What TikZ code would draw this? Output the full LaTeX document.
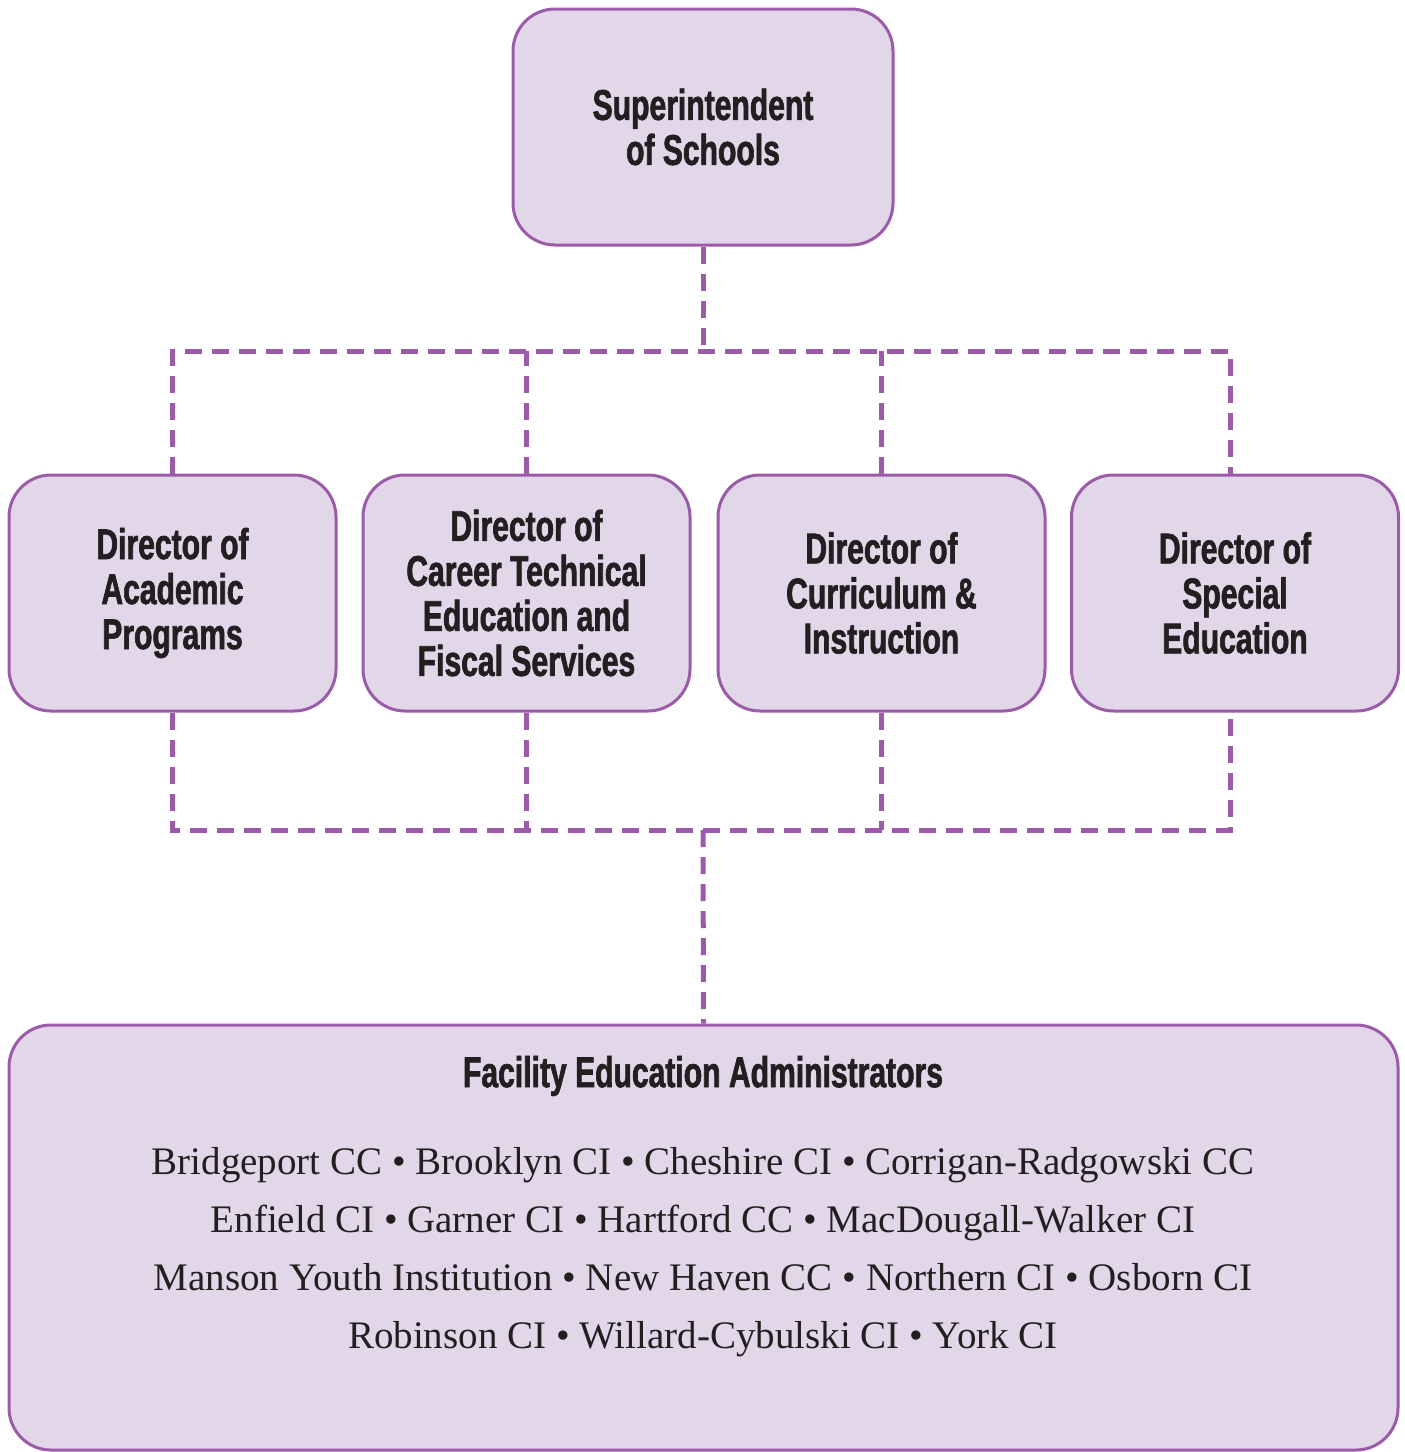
\documentclass[tikz,border=0pt]{standalone}
\usepackage{fontspec}
\usepackage{tikz}
\newfontfamily\headfont[FakeStretch=0.7, FakeBold=1.5]{Liberation Sans Bold}
\newfontfamily\listfont{Liberation Serif}
\definecolor{boxfill}{HTML}{E2D6E9}
\definecolor{boxline}{HTML}{9B5BA8}
\definecolor{ink}{HTML}{231F20}

\begin{document}
\begin{tikzpicture}[x = 0.5pt, y = -0.5pt,
                        box/.style = {rectangle, rounded corners = 21pt, draw = boxline, line width = 1.5pt,
                                      fill = boxfill, text = ink, align = center,
                                      font = \headfont\fontsize{21.5}{22.5}\selectfont},
                        link/.style = {draw = boxline, line width = 2.5pt, dash pattern = on 8.5pt off 5pt}]
      \useasboundingbox (0, 0) rectangle (1404, 1452);
      \node [box, minimum width = 190pt, minimum height = 118pt] (sup) at (703, 127){Superintendent\\of Schools};
      \node [box, minimum width = 163.5pt, minimum height = 118pt] (acad) at (172.5, 593){Director of\\Academic\\Programs};
      \node [box, minimum width = 163.5pt, minimum height = 118pt] (career) at (526.5, 593){Director of\\Career Technical\\Education and\\Fiscal Services};
      \node [box, minimum width = 163.5pt, minimum height = 118pt] (curric) at (881.5, 593){Director of\\Curriculum \&\\Instruction};
      \node [box, minimum width = 163.5pt, minimum height = 118pt] (spec) at (1235, 593){Director of\\Special\\Education};
      \node [box, minimum width = 694.5pt, minimum height = 212.5pt] (fac) at (703.5, 1237.5){};
      \node [text = ink, font = \headfont\fontsize{21.5}{22.5}\selectfont] (factitle) at (703, 1076){Facility Education Administrators};
      \node [text = ink, align = center, font = \listfont\fontsize{19.5}{29}\selectfont] (sites) at (703, 1252){
        Bridgeport CC • Brooklyn CI • Cheshire CI • Corrigan-Radgowski CC\\
        Enfield CI • Garner CI • Hartford CC • MacDougall-Walker CI\\
        Manson Youth Institution • New Haven CC • Northern CI • Osborn CI\\
        Robinson CI • Willard-Cybulski CI • York CI};
      \coordinate (topbus) at (703, 351);
      \coordinate (botbus) at (703, 830);
      \draw [link] (sup) -- (topbus);
      \draw [link] (acad.north) |- (topbus) -| ([xshift = -2.5pt]spec.north);
      \draw [link] (career.north) -- (career.north |- topbus);
      \draw [link] (curric.north) -- (curric.north |- topbus);
      \draw [link] (acad.south) |- (botbus) -| ([xshift = -2.5pt]spec.south);
      \draw [link] (career.south) -- (career.south |- botbus);
      \draw [link] (curric.south) -- (curric.south |- botbus);
      \draw [link] (botbus) -- (fac.north);
    \end{tikzpicture}
\end{document}
